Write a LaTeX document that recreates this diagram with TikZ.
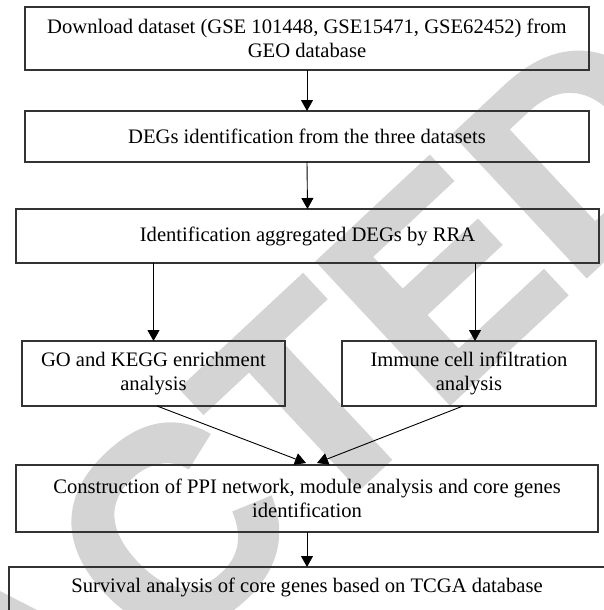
\documentclass[tikz,border=0pt]{standalone}
\usepackage{fontspec}
\setmainfont{Liberation Serif}
\newfontfamily\wmfont{Liberation Sans}
\usetikzlibrary{arrows.meta,calc}
\definecolor{wmgray}{RGB}{212,212,212}
\definecolor{boxline}{RGB}{51,51,51}
\newcommand{\wmthick}[1]{\special{pdf:literal direct 2 Tr 5 w}#1\special{pdf:literal direct 0 Tr 1 w}}
\tikzset{
  stepbox/.style={draw=boxline, line width=1.2pt, rectangle, inner sep=0pt, outer sep=0pt,
    align=center, font=\fontsize{20.6}{24}\selectfont},
  flow/.style={draw=black, line width=0.9pt, -{Triangle[length=11pt,width=12pt]}},
}
\begin{document}
\begin{tikzpicture}[x=1pt,y=1pt]
\useasboundingbox (0,0) rectangle (603,-610);
% watermark
\node[text=wmgray, rotate=43, inner sep=0pt, font=\wmfont\bfseries\fontsize{280}{280}\selectfont] (wm) at (24,-668) {\wmthick{RETRACTED}};
% boxes
\node[stepbox, minimum width=564, minimum height=63] (b1) at (307,-38.5)
  {Download dataset (GSE 101448, GSE15471, GSE62452) from\\GEO database};
\node[stepbox, minimum width=564, minimum height=51] (b2) at (307,-136.5)
  {DEGs identification from the three datasets};
\node[stepbox, minimum width=583, minimum height=54] (b3) at (307.5,-236)
  {Identification aggregated DEGs by RRA};
\node[stepbox, minimum width=263, minimum height=65] (b4) at (153.5,-373.5)
  {GO and KEGG enrichment\\analysis};
\node[stepbox, minimum width=254, minimum height=65] (b5) at (469,-373.5)
  {Immune cell infiltration\\analysis};
\node[stepbox, minimum width=582, minimum height=67] (b6) at (307,-498.5)
  {Construction of PPI network, module analysis and core genes\\identification};
\node[stepbox, minimum width=596, minimum height=53, anchor=north, text height=13.7pt, text depth=16.7pt] (b7) at (307,-567)
  {Survival analysis of core genes based on TCGA database};
% connector ends
\coordinate (t1) at (306,-463);
\coordinate (t2) at (317,-463);
% connectors
\draw[flow] (b1.south) -- (b2.north);
\draw[flow] (b2.south) -- (b3.north);
\draw[flow] (b3.south -| b4.south) -- (b4.north);
\draw[flow] ($(b3.south)+(167.5,0)$) -- ($(b5.north)+(6,0)$);
\draw[flow] ($(b4.south)+(3.5,0)$) -- (t1);
\draw[flow] ($(b5.south)+(-6,0)$) -- (t2);
\draw[flow] (b6.south) -- (b7.north);
\end{tikzpicture}
\end{document}
